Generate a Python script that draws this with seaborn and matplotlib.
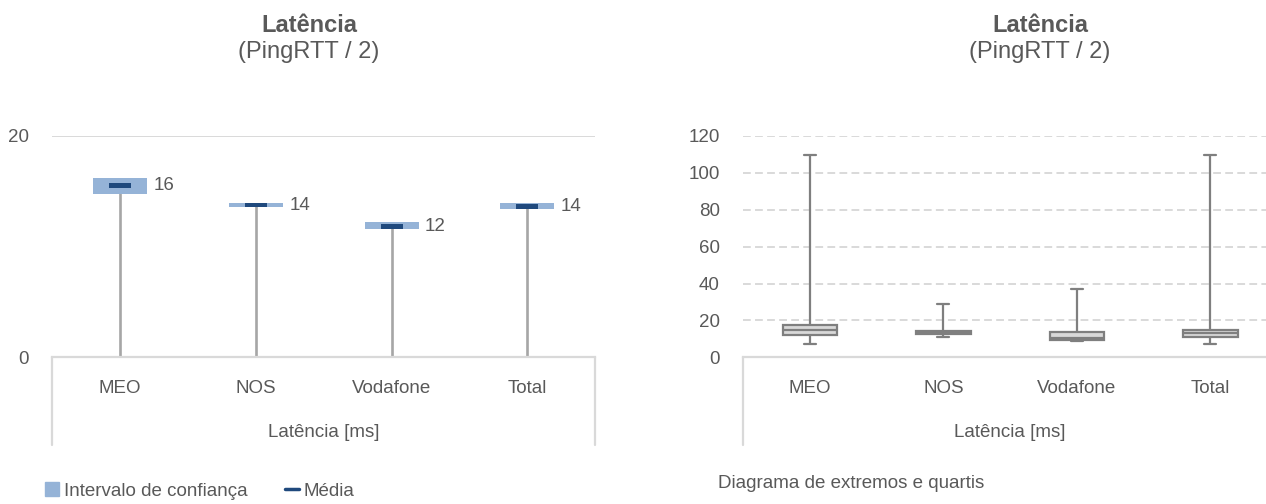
import numpy as np
import pandas as pd
import seaborn as sns
import matplotlib.pyplot as plt
from matplotlib.patches import Patch
from matplotlib.lines import Line2D

# data
categorias = ["MEO", "NOS", "Vodafone", "Total"]

# left chart: confidence interval and mean latency [ms]
ic_inf = [14.8, 13.55, 11.55, 13.4]
ic_sup = [16.2, 13.95, 12.2, 13.9]
media = [15.55, 13.75, 11.85, 13.65]

# right chart: five number summary [ms]
minimo = [7.4, 11.0, 9.0, 7.4]
q1 = [11.9, 12.6, 9.6, 10.8]
mediana = [14.6, 13.3, 10.4, 13.0]
q3 = [17.5, 14.3, 13.7, 15.0]
maximo = [109.5, 29.0, 37.0, 109.5]

W, H = 1266, 504
TXT = "#595959"
GRID = "#d9d9d9"
FS = 13.5

sns.set_theme(style="white")
plt.rcParams['font.family'] = ['Liberation Sans', 'DejaVu Sans']
plt.rcParams['text.color'] = TXT

fig = plt.figure(figsize=(W / 100, H / 100), dpi=100)

# ---------- left chart ----------
ax1 = fig.add_axes([52.4 / W, 1 - 357.3 / H, (595.2 - 52.4) / W, (357.3 - 136) / H])
x = np.arange(len(categorias))
lo = np.array(ic_inf)
hi = np.array(ic_sup)
m = np.array(media)

ax1.axhline(20, color=GRID, lw=1.4, zorder=0)
ax1.vlines(x, 0, m, color="#a6a6a6", lw=1.9, zorder=2)
ax1.bar(x, hi - lo, bottom=lo, width=0.4, color="#95b3d7", linewidth=0, zorder=3)
ax1.bar(x, 0.42, bottom=m - 0.21, width=0.16, color="#1f497d", linewidth=0, zorder=4)
for i, v in enumerate(media):
    ax1.annotate(f"{v:.0f}", (i + 0.2, v), xytext=(4.5, 0), textcoords="offset points",
                 ha="left", va="center", fontsize=FS, color=TXT)

ax1.set_xlim(-0.5, 3.5)
ax1.set_ylim(0, 20)
ax1.set_yticks([0, 20])
ax1.set_xticks(x)
ax1.set_xticklabels(categorias)
ax1.set_xlabel("Latência [ms]", fontsize=FS, color=TXT, labelpad=20)

# ---------- right chart ----------
ax2 = fig.add_axes([743.3 / W, 1 - 357.3 / H, (1277 - 743.3) / W, (357.3 - 136) / H])
rows = []
for c, a, b, md, d, e in zip(categorias, minimo, q1, mediana, q3, maximo):
    for v in (a, b, md, d, e):
        rows.append({"operador": c, "latencia": v})
df = pd.DataFrame(rows)

for yv in range(20, 121, 20):
    ax2.axhline(yv, color=GRID, lw=1.4, linestyle=(0, (4, 2.2)), zorder=0)
sns.boxplot(data=df, x="operador", y="latencia", order=categorias, whis=(0, 100),
            width=0.41, color="#d9d9d9", linecolor="#7f7f7f", linewidth=1.6,
            saturation=1, showfliers=False, capwidths=0.09, ax=ax2)
ax2.set_xlim(-0.5, 3.5)
ax2.set_ylim(0, 120)
ax2.set_yticks(range(0, 121, 20))
ax2.set_xlabel("Latência [ms]", fontsize=FS, color=TXT, labelpad=20)
ax2.set_ylabel("")

# ---------- shared axis styling ----------
for ax in (ax1, ax2):
    sns.despine(ax=ax, left=True, right=True, top=True)
    ax.spines["bottom"].set_color(GRID)
    ax.spines["bottom"].set_linewidth(1.6)
    ax.tick_params(axis="y", length=0, pad=17, labelsize=FS, labelcolor=TXT)
    ax.tick_params(axis="x", length=0, pad=16, labelsize=FS, labelcolor=TXT)
    ax.grid(False)
    # category axis separators going down below the axis
    for xe in (0, 1):
        ax.add_line(Line2D([xe, xe], [0, -0.396], transform=ax.transAxes,
                           color=GRID, lw=1.6, clip_on=False))

# ---------- titles ----------
for cx in (309, 1040):
    fig.text(cx / W, 1 - 26 / H, "Latência", ha="center", va="center",
             fontsize=17, fontweight="bold", color=TXT)
    fig.text(cx / W, 1 - 52 / H, "(PingRTT / 2)", ha="center", va="center",
             fontsize=17, color=TXT)

# ---------- legend / footnote ----------
handles = [Patch(color="#95b3d7"), Line2D([0], [0], color="#1f497d", lw=2.5)]
fig.legend(handles, ["Intervalo de confiança", "Média"], loc="center left",
           bbox_to_anchor=(28 / W, 1 - 491 / H), ncol=2, frameon=False,
           fontsize=FS, handlelength=0.75, handleheight=0.75, handletextpad=0.25,
           columnspacing=2.0, labelcolor=TXT)
fig.text(718 / W, 1 - 484 / H, "Diagrama de extremos e quartis", ha="left",
         va="center", fontsize=FS, color=TXT)

fig.savefig("out.png", dpi=100)
